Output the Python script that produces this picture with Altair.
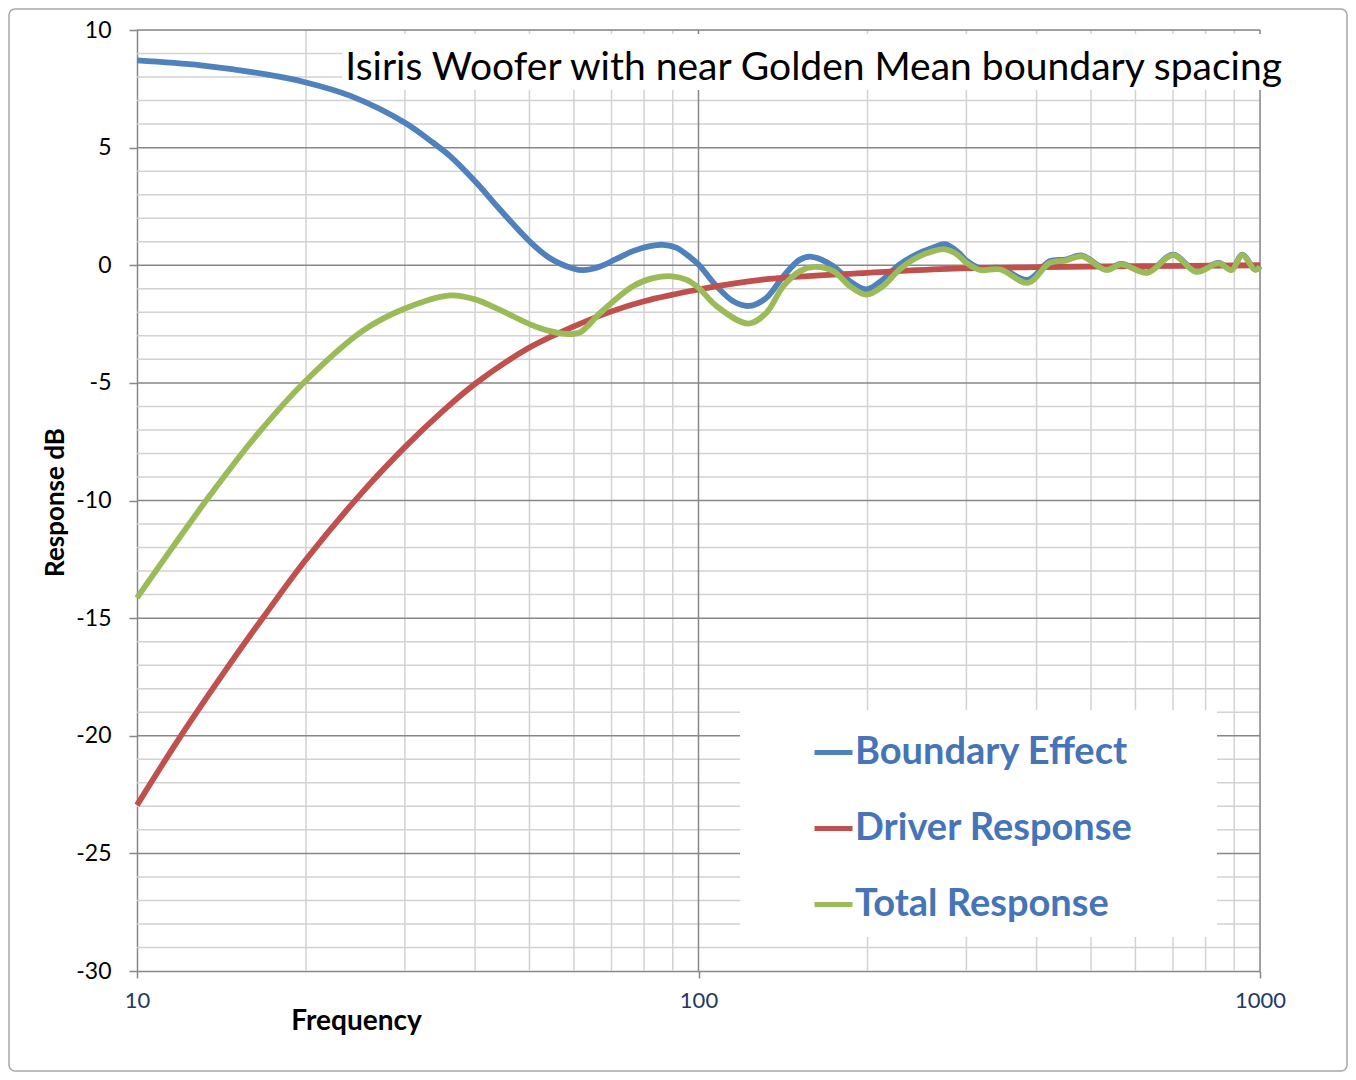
import altair as alt
import pandas as pd

# ---------------- data ----------------
series_names = ["Boundary Effect", "Driver Response", "Total Response"]
series_colors = ["#4F81BD", "#C0504D", "#9BBB59"]

freq_boundary = [10, 13, 17, 20, 24, 30, 33.7, 36.1, 40, 44.3, 50, 54.3, 60, 62.2,
                 66.8, 71.4, 76.4, 81.9, 86.6, 91.5, 95.3, 100, 107.7, 115.3, 123, 132, 141.6,
                 151.6, 159, 173.8, 186, 199, 213, 228, 244, 262, 275, 290, 300, 317, 345,
                 386, 422, 450, 482, 532, 566, 630, 700, 770, 844, 890, 930, 980, 1000]
db_boundary = [8.71, 8.5, 8.11, 7.77, 7.2, 6.06, 5.2, 4.64, 3.57, 2.37, 1.02, 0.31, -0.15, -0.21,
               -0.05, 0.27, 0.6, 0.81, 0.87, 0.74, 0.45, 0.03, -0.89, -1.53, -1.73, -1.39, -0.47,
               0.24, 0.36, -0.04, -0.68, -1.03, -0.61, 0.03, 0.45, 0.75, 0.9, 0.55, 0.2, -0.12, -0.12,
               -0.62, 0.17, 0.24, 0.41, -0.18, 0.06, -0.3, 0.45, -0.26, 0.1, -0.18, 0.45, -0.18, -0.04]

freq_driver = [10, 11.9, 14.6, 16.8, 20, 25.3, 30, 35, 40, 50, 60, 70, 80, 90, 100,
               130, 200, 277, 400, 600, 1000]
db_driver = [-22.95, -20.1, -16.99, -14.95, -12.51, -9.6, -7.73, -6.21, -5.04, -3.5, -2.6,
             -1.96, -1.53, -1.25, -1.03, -0.61, -0.32, -0.15, -0.08, -0.04, 0.0]

freq_total = [10, 11.5, 13.5, 16.3, 20, 25.3, 30, 36.1, 40, 44.3, 50, 54, 58.1, 61.5, 66.8,
              76.4, 83, 89.6, 95.3, 100, 107.7, 122.7, 132, 141.6, 151.6, 161, 173.8, 186, 199,
              213, 228, 244, 262, 275, 289, 300, 317, 345, 386, 422, 450, 482, 532, 566, 630,
              700, 770, 844, 890, 930, 980, 1000]
db_total = [-14.14, -12.08, -9.77, -7.25, -4.9, -2.77, -1.84, -1.28, -1.45, -1.9, -2.5, -2.78,
            -2.92, -2.85, -2.03, -0.89, -0.55, -0.47, -0.62, -0.96, -1.74, -2.48, -2.03, -0.89,
            -0.25, -0.07, -0.25, -0.89, -1.25, -0.89, -0.18, 0.31, 0.6, 0.68, 0.45, 0.1, -0.2,
            -0.18, -0.75, 0.1, 0.2, 0.38, -0.2, 0.04, -0.32, 0.43, -0.28, 0.08, -0.2, 0.43, -0.2,
            -0.06]

x_ticks = [10, 100, 1000]
x_minor = [20, 30, 40, 50, 60, 70, 80, 90, 200, 300, 400, 500, 600, 700, 800, 900]
x_major_grid = [100, 1000]
y_ticks = [-30, -25, -20, -15, -10, -5, 0, 5, 10]
y_minor = [v for v in range(-29, 10) if v % 5 != 0]
y_major_grid = [-25, -20, -15, -10, -5, 0, 5, 10]

chart_title = "Isiris Woofer with near Golden Mean boundary spacing"
x_title = "Frequency"
y_title = "Response dB"

# ---------------- tables ----------------
rows = []
for f, v in zip(freq_boundary, db_boundary):
    rows.append({"freq": f, "db": v, "series": series_names[0]})
for f, v in zip(freq_driver, db_driver):
    rows.append({"freq": f, "db": v, "series": series_names[1]})
for f, v in zip(freq_total, db_total):
    rows.append({"freq": f, "db": v, "series": series_names[2]})
lines_df = pd.DataFrame(rows)

FONT = "Lato"
MAJOR = "#878787"
MINOR = "#d2d2d2"

xscale = alt.Scale(type="log", domain=[10, 1000], nice=False)
yscale = alt.Scale(domain=[-30, 10], nice=False, zero=False)

xaxis = alt.Axis(values=x_ticks, labelExpr="'' + datum.value", grid=False, title=x_title,
                 labelFlush=False,
                 labelFont=FONT, labelFontSize=22, labelColor="#1F3864",
                 labelPadding=12, tickSize=7, tickColor=MAJOR, domainColor=MAJOR,
                 domainWidth=1.5, tickWidth=1.5,
                 titleFont=FONT, titleFontSize=28, titleFontWeight="bold",
                 titleColor="black", titleX=219, titleY=58, titleAlign="center",
                 titleBaseline="alphabetic")
yaxis = alt.Axis(values=y_ticks, labelExpr="'' + datum.value", grid=False, title=y_title,
                 labelFont=FONT, labelFontSize=23, labelColor="black",
                 labelPadding=18, tickSize=8, tickColor=MAJOR, domainColor=MAJOR,
                 domainWidth=1.5, tickWidth=1.5,
                 titleFont=FONT, titleFontSize=26, titleFontWeight="bold",
                 titleColor="black", titleX=-74, titleY=472, titleAlign="center",
                 titleBaseline="alphabetic", titleAngle=270)

X = alt.X("freq:Q", scale=xscale, axis=xaxis)
Y = alt.Y("db:Q", scale=yscale, axis=yaxis)

minor_h = alt.Chart(pd.DataFrame({"db": y_minor})).mark_rule(
    color=MINOR, strokeWidth=1.5).encode(y=Y)
minor_v = alt.Chart(pd.DataFrame({"freq": x_minor})).mark_rule(
    color=MINOR, strokeWidth=1.5).encode(x=X)
major_h = alt.Chart(pd.DataFrame({"db": y_major_grid})).mark_rule(
    color=MAJOR, strokeWidth=1.5).encode(y=Y)
major_v = alt.Chart(pd.DataFrame({"freq": x_major_grid})).mark_rule(
    color=MAJOR, strokeWidth=1.5).encode(x=X)

title_box = alt.Chart(pd.DataFrame({"k": [0]})).mark_rect(color="white").encode(
    x=alt.value(205), x2=alt.value(1153), y=alt.value(4), y2=alt.value(60))
legend_box = alt.Chart(pd.DataFrame({"k": [0]})).mark_rect(color="white").encode(
    x=alt.value(603), x2=alt.value(1080), y=alt.value(680), y2=alt.value(907))
outer_border = alt.Chart(pd.DataFrame({"k": [0]})).mark_rect(
    fill="transparent", stroke="#a6a6a6", strokeWidth=1.5, cornerRadius=6).encode(
    x=alt.value(-128), x2=alt.value(1210), y=alt.value(-21), y2=alt.value(1041))

title_text = alt.Chart(pd.DataFrame({"t": [chart_title]})).mark_text(
    font=FONT, fontSize=39, color="black", align="right", baseline="alphabetic").encode(
    x=alt.value(1145), y=alt.value(50), text="t:N")

lines = alt.Chart(lines_df).mark_line(strokeWidth=5.8, interpolate="catmull-rom").encode(
    x=X, y=Y,
    color=alt.Color("series:N", sort=series_names,
                    scale=alt.Scale(domain=series_names, range=series_colors),
                    legend=alt.Legend(title=None, orient="none", legendX=675, legendY=701,
                                      symbolType="stroke", symbolSize=1444,
                                      symbolStrokeWidth=5, labelFont=FONT,
                                      labelFontSize=38, labelFontWeight="bold",
                                      labelColor="#4674B8", rowPadding=35,
                                      labelOffset=0, padding=0, labelLimit=500)),
    order=alt.Order("series:N"),
)

chart = alt.layer(
    minor_h, minor_v, major_h, major_v, title_box, legend_box, outer_border, title_text, lines
).properties(
    width=1123, height=941,
    autosize=alt.AutoSizeParams(type="none"),
    padding={"left": 129, "top": 22, "right": 88, "bottom": 101},
).configure_view(stroke=None).configure(background="white")

chart.save("out.html", embed_options={"renderer": "svg", "actions": False})
